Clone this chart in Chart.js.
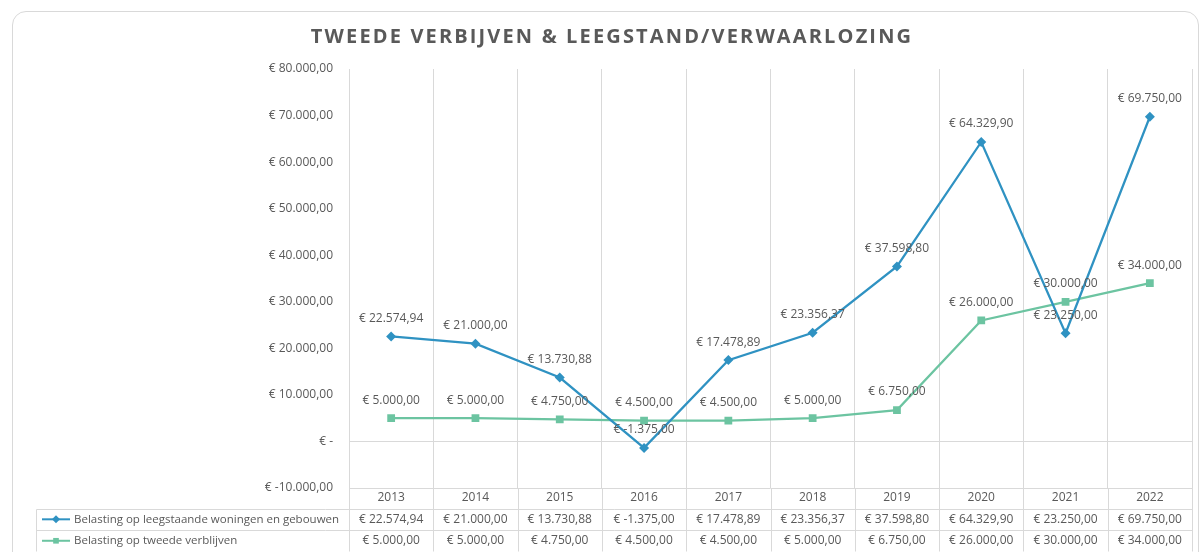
<!DOCTYPE html>
<html lang="nl">
<head>
  <meta charset="UTF-8" />
  <title>Tweede verblijven & leegstand/verwaarlozing</title>
  <script src="https://cdn.jsdelivr.net/npm/chart.js"></script>
  <style>
    html, body { margin: 0; padding: 0; background: #fff; }
    body { width: 1203px; height: 552px; position: relative; overflow: hidden; }
    .kaart {
      position: absolute; left: 12px; top: 11px; width: 1187px; height: 570px;
      border: 1px solid #d9d9d9; border-radius: 14px; box-sizing: border-box;
    }
    #grafiek { position: absolute; left: 0; top: 0; }
  </style>
</head>
<body>
  <div class="kaart"></div>
  <canvas id="grafiek" width="1203" height="552"></canvas>

  <script>
    const titel = 'TWEEDE VERBIJVEN & LEEGSTAND/VERWAARLOZING';
    const jaren = ['2013', '2014', '2015', '2016', '2017', '2018', '2019', '2020', '2021', '2022'];
    const reeksNamen = ['Belasting op leegstaande woningen en gebouwen', 'Belasting op tweede verblijven'];
    const leegstand = [22574.94, 21000.00, 13730.88, -1375.00, 17478.89, 23356.37, 37598.80, 64329.90, 23250.00, 69750.00];
    const tweedeVerblijven = [5000.00, 5000.00, 4750.00, 4500.00, 4500.00, 5000.00, 6750.00, 26000.00, 30000.00, 34000.00];
    const yMin = -10000, yMax = 80000, yStap = 10000;

    const blauw = '#2f92c2';
    const groen = '#6cc4a1';
    const grijs = '#595959';
    const lijn = '#d9d9d9';
    const lettertype = '"Open Sans", sans-serif';

    // bedrag in Nederlandse notatie: € 22.574,94 / € - voor nul
    function euro(v) {
      if (v === 0) return '€ -';
      const [heel, dec] = Math.abs(v).toFixed(2).split('.');
      return '€ ' + (v < 0 ? '-' : '') + heel.replace(/\B(?=(\d{3})+(?!\d))/g, '.') + ',' + dec;
    }

    // onderste as = gegevenstabel: jaar + beide reeksen
    const tabelLabels = jaren.map((j, i) => [j, euro(leegstand[i]), euro(tweedeVerblijven[i])]);

    const tabelPlugin = {
      id: 'tabel',
      afterDatasetsDraw(chart) {
        const ctx = chart.ctx;
        ctx.save();
        ctx.font = '12px ' + lettertype;
        ctx.fillStyle = grijs;
        ctx.textAlign = 'center';
        ctx.textBaseline = 'middle';
        chart.data.datasets.forEach((ds, i) => {
          chart.getDatasetMeta(i).data.forEach((pt, j) => {
            ctx.fillText(euro(ds.data[j]), pt.x, pt.y - 18);
          });
        });
        ctx.restore();
      },
      afterDraw(chart) {
        const ctx = chart.ctx;
        const area = chart.chartArea;
        const x = chart.scales.x;
        const rij1 = area.bottom + 20.5, rij2 = area.bottom + 42, onder = 551.5;
        const links = 36.5;

        ctx.save();
        // titel
        ctx.font = 'bold 20px ' + lettertype;
        ctx.letterSpacing = '2.15px';
        ctx.fillStyle = grijs;
        ctx.textAlign = 'center';
        ctx.textBaseline = 'middle';
        ctx.fillText(titel, 612, 37);
        ctx.letterSpacing = '0px';

        // tabellijnen
        ctx.strokeStyle = lijn;
        ctx.lineWidth = 1;
        ctx.beginPath();
        for (let i = 0; i <= jaren.length; i++) {
          const px = Math.round(x.getPixelForValue(i - 0.5)) + 0.5;
          ctx.moveTo(px, area.bottom);
          ctx.lineTo(px, onder);
        }
        [rij1, rij2, onder].forEach(y => {
          ctx.moveTo(links, Math.round(y) + 0.5);
          ctx.lineTo(area.right, Math.round(y) + 0.5);
        });
        ctx.moveTo(links, Math.round(rij1) + 0.5);
        ctx.lineTo(links, onder);
        ctx.stroke();

        // legendasleutels in de tabel
        const midden = [(rij1 + rij2) / 2, (rij2 + onder) / 2];
        ctx.font = '11.5px ' + lettertype;
        ctx.textAlign = 'left';
        chart.data.datasets.forEach((ds, i) => {
          const y = midden[i];
          ctx.strokeStyle = ds.borderColor;
          ctx.lineWidth = 2;
          ctx.beginPath();
          ctx.moveTo(42, y);
          ctx.lineTo(70, y);
          ctx.stroke();
          ctx.fillStyle = ds.borderColor;
          Chart.helpers.drawPoint(ctx, { pointStyle: ds.pointStyle, radius: 4, borderWidth: 0 }, 56, y);
          ctx.fillStyle = grijs;
          ctx.fillText(reeksNamen[i], 74, y);
        });
        ctx.restore();
      }
    };

    new Chart(document.getElementById('grafiek'), {
      type: 'line',
      data: {
        labels: tabelLabels,
        datasets: [
          {
            label: reeksNamen[0], data: leegstand,
            borderColor: blauw, backgroundColor: blauw, borderWidth: 2.25,
            pointStyle: 'rectRot', pointRadius: 5, pointBorderWidth: 0, tension: 0
          },
          {
            label: reeksNamen[1], data: tweedeVerblijven,
            borderColor: groen, backgroundColor: groen, borderWidth: 2.25,
            pointStyle: 'rect', pointRadius: 5.5, pointBorderWidth: 0, tension: 0
          }
        ]
      },
      options: {
        responsive: false,
        animation: false,
        devicePixelRatio: 1,
        layout: { padding: { left: 255, right: 11, top: 69, bottom: 1.5 } },
        plugins: { legend: { display: false }, title: { display: false }, tooltip: { enabled: false } },
        scales: {
          x: {
            offset: true,
            grid: { offset: true, color: lijn, drawTicks: false },
            border: { display: false },
            ticks: {
              color: grijs, padding: -1, maxRotation: 0, autoSkip: false,
              font: { family: lettertype, size: 12, lineHeight: 1.79 }
            }
          },
          y: {
            min: yMin, max: yMax,
            afterFit(scale) { scale.width = 94; },
            grid: {
              drawTicks: false,
              color: c => (c.tick.value === 0 || c.tick.value === yMin) ? lijn : 'rgba(0,0,0,0)'
            },
            border: { display: false },
            ticks: {
              stepSize: yStap, padding: 16, color: grijs,
              font: { family: lettertype, size: 12 },
              callback: v => euro(v)
            }
          }
        }
      },
      plugins: [tabelPlugin]
    });
  </script>
</body>
</html>
